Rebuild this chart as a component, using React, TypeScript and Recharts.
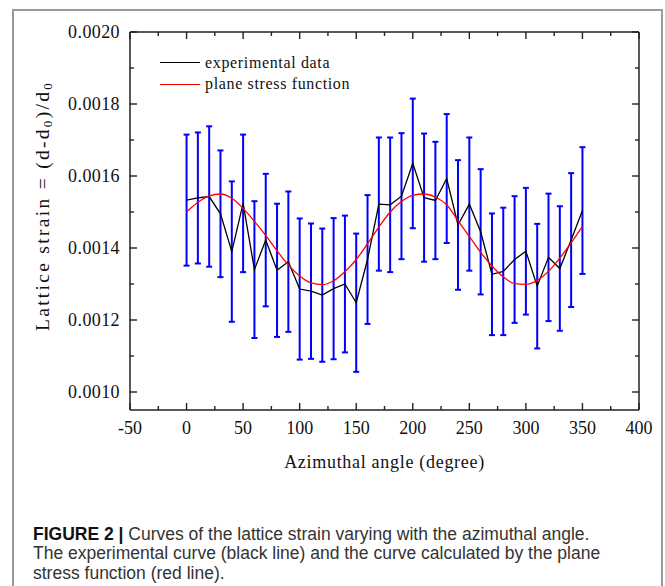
import { ComposedChart, Line, XAxis, YAxis, ErrorBar, Legend } from 'recharts';

const SERIF = '"Liberation Serif", "Times New Roman", serif';
const SANS = '"Liberation Sans", Arial, Helvetica, sans-serif';

// azimuthal angle (degree)
const angles = [0, 10, 20, 30, 40, 50, 60, 70, 80, 90, 100, 110, 120, 130, 140, 150, 160, 170, 180, 190, 200, 210, 220, 230, 240, 250, 260, 270, 280, 290, 300, 310, 320, 330, 340, 350];

// measured lattice strain
const expStrain = [
  0.001533, 0.001539, 0.001543, 0.001495, 0.00139, 0.001524, 0.00134, 0.001422, 0.001338, 0.001362,
  0.001286, 0.00128, 0.001269, 0.001287, 0.0013, 0.001248, 0.001368, 0.001522, 0.00152, 0.001544,
  0.001635, 0.00154, 0.001532, 0.001593, 0.001464, 0.001522, 0.001445, 0.001327, 0.001335, 0.001368,
  0.001391, 0.001294, 0.001374, 0.001343, 0.001422, 0.001504,
];

// half length of the error bars
const expError = [
  0.000182, 0.000182, 0.000195, 0.000176, 0.000195, 0.000191, 0.00019, 0.000184, 0.000185, 0.000195,
  0.000196, 0.000188, 0.000185, 0.000196, 0.00019, 0.000192, 0.000179, 0.000185, 0.000187, 0.000175,
  0.00018, 0.000178, 0.000163, 0.000179, 0.00018, 0.000185, 0.000174, 0.000169, 0.000177, 0.000176,
  0.000176, 0.000173, 0.000177, 0.000173, 0.000186, 0.000176,
];

// plane stress function curve
const fitStrain = [
  0.0015, 0.001527, 0.001545, 0.00155, 0.001538, 0.00151, 0.001474, 0.001435, 0.001392, 0.001353,
  0.001322, 0.001303, 0.001298, 0.001309, 0.001334, 0.001368, 0.001412, 0.001458, 0.0015, 0.001529,
  0.001546, 0.00155, 0.001541, 0.00152, 0.001476, 0.001432, 0.001388, 0.00135, 0.00132, 0.001301,
  0.001299, 0.00131, 0.001335, 0.001372, 0.001414, 0.00146,
];

const xTicks = [-50, -25, 0, 25, 50, 75, 100, 125, 150, 175, 200, 225, 250, 275, 300, 325, 350, 375, 400];
const yTicks = [0.001, 0.0011, 0.0012, 0.0013, 0.0014, 0.0015, 0.0016, 0.0017, 0.0018, 0.0019, 0.002];

const data = angles.map((a, i) => ({
  angle: a,
  exp: expStrain[i],
  err: expError[i],
  fit: fitStrain[i],
}));

const AXIS = '#222';
const MAJOR = 7;
const MINOR = 4;

const isMajorX = (v: number) => v % 50 === 0;
const isMajorY = (v: number) => Math.round(v * 10000) % 2 === 0;

function BottomTick({ x, y, payload }: any) {
  const major = isMajorX(payload.value);
  return (
    <g>
      <line x1={x} x2={x} y1={y} y2={y - (major ? MAJOR : MINOR)} stroke={AXIS} strokeWidth={1.4} />
      {major && (
        <text x={x} y={y + 24} textAnchor="middle" fontFamily={SERIF} fontSize={18} fill="#111">
          {payload.value}
        </text>
      )}
    </g>
  );
}

function TopTick({ x, y, payload }: any) {
  const major = isMajorX(payload.value);
  return <line x1={x} x2={x} y1={y} y2={y + (major ? MAJOR : MINOR)} stroke={AXIS} strokeWidth={1.4} />;
}

function LeftTick({ x, y, payload }: any) {
  const major = isMajorY(payload.value);
  return (
    <g>
      <line x1={x} x2={x + (major ? MAJOR : MINOR)} y1={y} y2={y} stroke={AXIS} strokeWidth={1.4} />
      {major && (
        <text x={x - 10} y={y} dy="0.35em" textAnchor="end" fontFamily={SERIF} fontSize={18} fill="#111" letterSpacing={0.4}>
          {payload.value.toFixed(4)}
        </text>
      )}
    </g>
  );
}

function RightTick({ x, y, payload }: any) {
  const major = isMajorY(payload.value);
  return <line x1={x} x2={x - (major ? MAJOR : MINOR)} y1={y} y2={y} stroke={AXIS} strokeWidth={1.4} />;
}

function YLabel({ viewBox }: any) {
  const cy = viewBox.y + viewBox.height / 2 - 15;
  const cx = 42;
  return (
    <text
      x={cx}
      y={cy}
      transform={`rotate(-90 ${cx} ${cy})`}
      textAnchor="middle"
      dominantBaseline="central"
      fontFamily={SERIF}
      fontSize={19.5}
      letterSpacing={2.3}
      fill="#111"
    >
      <tspan>Lattice strain = (d-d</tspan>
      <tspan dy={5} fontSize={13}>0</tspan>
      <tspan dy={-5}>)/d</tspan>
      <tspan dy={5} fontSize={13}>0</tspan>
    </text>
  );
}

function XLabel({ viewBox }: any) {
  return (
    <text
      x={viewBox.x + viewBox.width / 2}
      y={viewBox.y + 58}
      textAnchor="middle"
      fontFamily={SERIF}
      fontSize={18}
      letterSpacing={0.7}
      fill="#111"
    >
      Azimuthal angle (degree)
    </text>
  );
}

function LegendBox() {
  const rows = [
    { label: 'experimental data', color: '#000' },
    { label: 'plane stress function', color: '#ff0000' },
  ];
  return (
    <div style={{ fontFamily: SERIF, fontSize: 16, color: '#111' }}>
      {rows.map((r) => (
        <div key={r.label} style={{ display: 'flex', alignItems: 'center', height: 21.5 }}>
          <span style={{ display: 'inline-block', width: 40, height: 0, borderTop: `1.5px solid ${r.color}`, marginRight: 5 }} />
          <span style={{ letterSpacing: 0.65 }}>{r.label}</span>
        </div>
      ))}
    </div>
  );
}

export default function App() {
  return (
    <div style={{ position: 'absolute', left: 0, top: 0, width: 665, height: 586, background: '#fff', overflow: 'hidden' }}>
      <div
        style={{
          position: 'absolute',
          left: 12,
          top: 9,
          width: 647,
          height: 620,
          borderLeft: '2px solid #9a9a9a',
          borderTop: '2px solid #9a9a9a',
          borderRight: '2px solid #9a9a9a',
        }}
      />
      <div style={{ position: 'absolute', left: 0, top: 0 }}>
        <ComposedChart width={665} height={586} data={data} margin={{ top: 31, right: 25, bottom: 116, left: 70 }}>
          <XAxis
            dataKey="angle"
            type="number"
            domain={[-50, 400]}
            ticks={xTicks}
            interval={0}
            allowDataOverflow
            height={60}
            tickSize={0}
            tickMargin={0}
            tick={<BottomTick />}
            axisLine={{ stroke: AXIS, strokeWidth: 1.5 }}
            label={<XLabel />}
          />
          <XAxis
            xAxisId="top"
            orientation="top"
            dataKey="angle"
            type="number"
            domain={[-50, 400]}
            ticks={xTicks}
            interval={0}
            allowDataOverflow
            height={1}
            tickSize={0}
            tickMargin={0}
            tick={<TopTick />}
            axisLine={{ stroke: AXIS, strokeWidth: 1.5 }}
          />
          <YAxis
            type="number"
            domain={[0.00095, 0.002]}
            ticks={yTicks}
            interval={0}
            allowDataOverflow
            width={60}
            tickSize={0}
            tickMargin={0}
            tick={<LeftTick />}
            axisLine={{ stroke: AXIS, strokeWidth: 1.5 }}
            label={<YLabel />}
          />
          <YAxis
            yAxisId="right"
            orientation="right"
            type="number"
            domain={[0.00095, 0.002]}
            ticks={yTicks}
            interval={0}
            allowDataOverflow
            width={1}
            tickSize={0}
            tickMargin={0}
            tick={<RightTick />}
            axisLine={{ stroke: AXIS, strokeWidth: 1.5 }}
          />
          <Legend
            layout="vertical"
            align="center"
            verticalAlign="middle"
            content={<LegendBox />}
            wrapperStyle={{ left: 160, top: 52, width: 220 }}
          />
          <Line
            dataKey="exp"
            name="experimental data"
            type="linear"
            stroke="#000"
            strokeWidth={1.3}
            dot={false}
            isAnimationActive={false}
          >
            <ErrorBar dataKey="err" direction="y" width={3} stroke="#0000ff" strokeWidth={2} />
          </Line>
          <Line
            dataKey="fit"
            name="plane stress function"
            xAxisId="top"
            yAxisId="right"
            type="monotone"
            stroke="#ff0000"
            strokeWidth={1.3}
            dot={false}
            isAnimationActive={false}
          />
        </ComposedChart>
      </div>
      <div
        style={{
          position: 'absolute',
          left: 33,
          top: 525,
          width: 628,
          fontFamily: SANS,
          fontSize: 17.5,
          lineHeight: '19.4px',
          color: '#333',
          whiteSpace: 'nowrap',
        }}
      >
        <span style={{ fontWeight: 'bold', color: '#111' }}>FIGURE 2 | </span>
        Curves of the lattice strain varying with the azimuthal angle.
        <br />
        The experimental curve (black line) and the curve calculated by the plane
        <br />
        stress function (red line).
      </div>
    </div>
  );
}
